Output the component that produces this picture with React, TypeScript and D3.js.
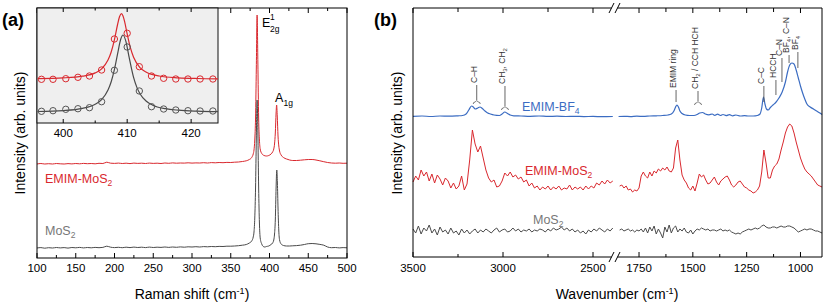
import React from "react";
import * as d3 from "d3";

const FONT = "'Liberation Sans', Arial, Helvetica, sans-serif";
const RED = "#d9282e";
const GREY = "#4a4a4a";
const BLUE = "#3b6cc2";

// ---------- (a) Raman: [shift cm-1, intensity] ----------
const ramanEmim: number[][] = [
  [100, 94], [105, 94.5], [110, 94], [115, 94.3], [120, 94], [125, 94.5], [130, 94.2], [135, 94], [140, 94.4], [145, 94.1],
  [150, 94.5], [155, 94.2], [160, 94.6], [165, 94.3], [170, 94.5], [175, 94.2], [180, 94.7], [185, 94.5], [190, 95.8], [195, 94.8],
  [200, 94.6], [205, 94.9], [210, 94.5], [215, 94.8], [220, 94.4], [225, 94.9], [230, 94.6], [235, 94.8], [240, 94.5], [245, 94.9],
  [250, 94.6], [255, 94.8], [260, 94.5], [265, 95], [270, 94.7], [275, 95.1], [280, 94.8], [285, 95], [290, 94.9], [295, 95.2],
  [300, 94.9], [305, 95.1], [310, 95], [315, 95.3], [320, 95], [325, 95.4], [330, 95.2], [335, 95.5], [340, 95.3], [345, 95.6],
  [350, 95.5], [355, 95.8], [360, 96], [365, 96.5], [370, 97.2], [374, 98.5], [377, 100.5], [379, 104], [380, 108], [381, 118],
  [382, 140], [383, 190], [384, 243], [385, 195], [386, 140], [387, 118], [388, 109], [390, 104.5], [393, 102.5], [396, 102],
  [399, 102.5], [402, 104], [404, 106], [405.5, 109], [406.5, 114], [407.5, 125], [408.5, 145], [409.2, 153], [410, 142], [411, 122],
  [412, 112], [413, 107], [415, 103], [418, 100.5], [422, 99], [426, 98], [430, 97.5], [435, 97.5], [440, 97.8], [445, 98.2],
  [450, 98.5], [455, 98.5], [460, 98], [465, 97.2], [470, 96.3], [475, 95.5], [480, 95], [485, 94.8], [490, 95], [495, 94.7], [500, 94.8],
];
const ramanMos2: number[][] = [
  [100, 10], [105, 10.4], [110, 9.8], [115, 10.3], [120, 10], [125, 10.5], [130, 10.1], [135, 10.4], [140, 9.9], [145, 10.5],
  [150, 10.2], [155, 10.6], [160, 10.1], [165, 10.5], [170, 10.2], [175, 10.6], [180, 10.3], [185, 10.6], [190, 11.8], [195, 10.8],
  [200, 10.4], [205, 10.7], [210, 10.3], [215, 10.8], [220, 10.4], [225, 10.9], [230, 10.5], [235, 10.8], [240, 10.4], [245, 10.9],
  [250, 10.5], [255, 10.8], [260, 10.6], [265, 11], [270, 10.6], [275, 11], [280, 10.7], [285, 11.1], [290, 10.8], [295, 11.2],
  [300, 11], [305, 11.3], [310, 11], [315, 11.4], [320, 11.2], [325, 11.5], [330, 11.3], [335, 11.6], [340, 11.5], [345, 11.8],
  [350, 11.8], [355, 12], [360, 12.3], [365, 12.8], [370, 13.5], [374, 15], [377, 17], [379, 21], [380, 26], [381, 40],
  [382, 70], [383, 120], [384, 158], [385, 125], [386, 70], [387, 35], [388, 20], [390, 14], [392, 11.5], [394, 11],
  [396, 11.5], [399, 12], [402, 13.5], [404, 15], [405.5, 18], [406.5, 24], [407.5, 38], [408.5, 70], [409.4, 88], [410.2, 75],
  [411, 50], [412, 27], [413, 18], [415, 14], [418, 12.5], [422, 12], [426, 12], [430, 12.2], [435, 12.4], [440, 12.8],
  [445, 13.5], [450, 14.3], [455, 14.5], [460, 14.2], [465, 13.6], [470, 12.8], [475, 11], [480, 10.3], [485, 10.5], [490, 10.1], [495, 10.4], [500, 10.2],
];
const ramanMajor = [100, 150, 200, 250, 300, 350, 400, 450, 500];
const ramanMinor = [125, 175, 225, 275, 325, 375, 425, 475];

// inset: measured points + Lorentzian fit curves
const insetShift = [396.6, 398.4, 400.4, 402.3, 404.1, 406.0, 408.0, 410.0, 411.9, 413.8, 415.7, 417.6, 419.5, 421.4, 423.4];
const insetEmim = [43.7, 43.7, 44.3, 45.7, 47, 53, 84, 89.7, 56.3, 47, 44.7, 44, 44, 44, 44];
const insetMos2 = [11.7, 12.3, 13.7, 14.3, 15.3, 21.3, 52.7, 76, 32, 16.3, 14, 13, 12.3, 12, 12];
const insetEmimFit: number[][] = [
  [396, 44.4], [400, 45.1], [403, 46.8], [405, 50.1], [406, 54.2], [407, 62.9], [407.5, 71], [408, 83.1], [408.5, 98.5],
  [408.8, 106.2], [409.1, 109.3], [409.35, 107.1], [409.6, 101.4], [410, 89.1], [410.5, 75.3], [411, 65.7], [412, 55.4],
  [413, 50.7], [415, 47], [418, 45.2], [421, 44.5], [424.2, 44.2],
];
const insetMos2Fit: number[][] = [
  [396, 11.5], [400, 12.4], [403, 14.6], [405, 18.7], [406, 23.4], [407, 33], [407.5, 41.3], [408, 53.3], [408.5, 69.2],
  [409, 84], [409.35, 88], [409.8, 81.6], [410.3, 65.9], [411, 45.6], [411.5, 35.9], [412, 29.3], [413, 21.7], [414, 17.8],
  [416, 14.3], [418, 12.8], [421, 11.8], [424.2, 11.3],
];
const insetMajor = [400, 410, 420];
const insetMinor = [405, 415];

// ---------- (b) IR ----------
const irLeftWn = d3.range(3500, 2385, -15);
const irRightWn = d3.range(1840, 895, -10);
const irLeftEmimMos2 = [
  75, 81, 77, 87, 81, 85, 76, 83, 74, 82, 78, 72, 79, 76, 69, 74, 68, 71, 81, 67,
  73, 97, 127, 113, 105, 111, 99, 87, 79, 75, 77, 70, 71, 76, 84, 81, 85, 80, 82, 78,
  80, 75, 77, 71, 74, 69, 71, 67, 70, 68, 71, 67, 70, 68, 71, 67, 69, 68, 72, 67,
  70, 68, 70, 67, 71, 68, 71, 69, 74, 72, 76, 73, 77, 74, 76,
];
const irLeftMos2 = [
  28, 24, 31, 23, 29, 26, 32, 24, 28, 22, 30, 25, 27, 23, 29, 24, 26, 22, 28, 24,
  27, 23, 26, 28, 24, 27, 25, 28, 26, 24, 27, 29, 25, 27, 28, 25, 26, 29, 26, 28,
  25, 27, 26, 28, 25, 27, 26, 28, 27, 25, 28, 26, 29, 27, 28, 30, 27, 29, 26, 28,
  25, 27, 24, 26, 23, 27, 25, 28, 26, 29, 27, 25, 28, 26, 29,
];
const irRightEmimMos2 = [
  71, 72, 69, 71, 67, 68, 65, 67, 66, 69, 81, 85, 81, 79, 85, 81, 86, 84, 88, 86,
  89, 87, 90, 86, 85, 89, 109, 117, 97, 82, 77, 74, 69, 67, 71, 66, 74, 83, 80, 82,
  77, 73, 74, 77, 80, 75, 72, 76, 78, 80, 81, 77, 72, 70, 72, 75, 76, 73, 70, 69,
  67, 66, 64, 65, 67, 71, 85, 107, 94, 79, 79, 87, 91, 93, 98, 107, 115, 124, 130, 133,
  131, 124, 115, 107, 99, 93, 88, 85, 83, 81, 78, 75, 72, 71, 70,
];
const irRightMos2 = [
  27, 28, 26, 27, 28, 26, 27, 25, 27, 26, 28, 25, 29, 24, 30, 26, 31, 23, 28, 24,
  19, 30, 25, 32, 24, 29, 31, 25, 28, 26, 29, 25, 24, 27, 23, 26, 28, 27, 29, 28,
  27, 28, 26, 27, 27, 26, 27, 28, 26, 27, 26, 27, 25, 24, 23, 24, 23, 25, 26, 27,
  28, 27, 28, 29, 28, 29, 31, 32, 30, 29, 29, 30, 30, 29, 30, 31, 30, 30, 31, 31,
  30, 29, 27, 25, 26, 27, 28, 27, 28, 28, 27, 26, 26, 25, 24,
];
const irLeftBf4: number[][] = [
  [3500, 140.7], [3450, 141], [3400, 140.5], [3350, 141], [3300, 140.8], [3250, 141.2], [3225, 141.5], [3205, 143],
  [3190, 147], [3175, 151], [3165, 150], [3155, 148], [3140, 149], [3128, 150], [3115, 148.5], [3100, 146], [3085, 144],
  [3070, 143], [3050, 142], [3020, 141.5], [3005, 143], [2990, 145], [2975, 143.5], [2960, 142], [2940, 141.2], [2900, 141],
  [2850, 140.7], [2800, 141], [2750, 140.6], [2700, 140.8], [2650, 140.5], [2600, 140.7], [2550, 140.4], [2500, 140.6],
  [2450, 140.3], [2390, 140.5],
];
const irRightBf4: number[][] = [
  [1845, 140.5], [1820, 140.7], [1790, 140.4], [1760, 140.8], [1730, 140.6], [1700, 141], [1670, 141.2], [1640, 141.5],
  [1615, 142], [1600, 143], [1588, 146], [1580, 150], [1574, 152], [1567, 150], [1560, 146], [1550, 143.5], [1535, 142],
  [1515, 141.5], [1495, 141.5], [1480, 142.5], [1468, 144], [1455, 144.5], [1442, 143], [1425, 142.2], [1410, 143],
  [1398, 141.7], [1385, 142.8], [1372, 141.5], [1360, 142.5], [1345, 141.4], [1330, 142.4], [1315, 141.2], [1300, 142],
  [1280, 141], [1260, 141.4], [1240, 141], [1220, 141], [1200, 141.5], [1188, 143], [1180, 149], [1172, 160], [1165, 153],
  [1158, 148], [1150, 147], [1140, 149.5], [1128, 152], [1115, 154.5], [1100, 159], [1085, 165], [1070, 175], [1060, 185],
  [1050, 192], [1040, 194], [1030, 193], [1020, 187], [1010, 179], [1000, 171], [990, 164], [980, 158], [970, 153],
  [955, 150], [940, 148], [925, 146], [910, 144], [900, 142.5],
];
const irLeftMajor = [3500, 3000, 2500];
const irLeftMinor = [3250, 2750];
const irRightMajor = [1750, 1500, 1250, 1000];
const irRightMinor = [1625, 1375, 1125];

type Part = { t: string; sub?: boolean };
const irBands: { seg: "L" | "R"; wn: number; parts: Part[]; top: number; bottom: number; brace?: boolean }[] = [
  { seg: "L", wn: 3146, parts: [{ t: "C–H" }], top: 85, bottom: 100, brace: true },
  { seg: "L", wn: 2989, parts: [{ t: "CH" }, { t: "3", sub: true }, { t: ", CH" }, { t: "2", sub: true }], top: 86, bottom: 106, brace: true },
  { seg: "R", wn: 1578, parts: [{ t: "EMIM ring" }], top: 90, bottom: 102 },
  { seg: "R", wn: 1476, parts: [{ t: "CH" }, { t: "2", sub: true }, { t: " / CCH HCH" }], top: 91, bottom: 101, brace: true },
  { seg: "R", wn: 1170, parts: [{ t: "C–C" }], top: 86, bottom: 102 },
  { seg: "R", wn: 1114, parts: [{ t: "HCCH" }], top: 80, bottom: 95 },
  { seg: "R", wn: 1086, parts: [{ t: "C–N" }], top: 58, bottom: 82 },
  { seg: "R", wn: 1053, parts: [{ t: "BF" }, { t: "4", sub: true }, { t: ", C–N" }], top: 55, bottom: 63 },
  { seg: "R", wn: 1012, parts: [{ t: "BF" }, { t: "4", sub: true }], top: 52, bottom: 68 },
];

export default function App() {
  const xA = d3.scaleLinear().domain([100, 500]).range([37, 347]);
  const yA = d3.scaleLinear().domain([0, 250]).range([258, 8]);
  const xI = d3.scaleLinear().domain([395.9, 424.2]).range([37, 218]);
  const yI = d3.scaleLinear().domain([0, 115]).range([123, 8]);
  const xL = d3.scaleLinear().domain([3500, 2385]).range([413, 613.7]);
  const xR = d3.scaleLinear().domain([1850, 900]).range([617.5, 822]);
  const yB = d3.scaleLinear().domain([0, 249]).range([257, 8]);

  const lineA = d3.line<number[]>().x((d) => xA(d[0])).y((d) => yA(d[1])).curve(d3.curveMonotoneX);
  const lineI = d3.line<number[]>().x((d) => xI(d[0])).y((d) => yI(d[1])).curve(d3.curveMonotoneX);
  const lineL = d3.line<number[]>().x((d) => xL(d[0])).y((d) => yB(d[1]));
  const lineR = d3.line<number[]>().x((d) => xR(d[0])).y((d) => yB(d[1]));
  const smoothL = d3.line<number[]>().x((d) => xL(d[0])).y((d) => yB(d[1])).curve(d3.curveMonotoneX);
  const smoothR = d3.line<number[]>().x((d) => xR(d[0])).y((d) => yB(d[1])).curve(d3.curveMonotoneX);

  const zipL = (vals: number[]) => vals.map((v, i) => [irLeftWn[i], v]);
  const zipR = (vals: number[]) => vals.map((v, i) => [irRightWn[i], v]);

  const tick = (x: number, y0: number, len: number, key: string) => (
    <line key={key} x1={x} x2={x} y1={y0} y2={y0 + len} stroke="#000" strokeWidth={1} />
  );

  const aTop = 8, aBot = 258, bTop = 8, bBot = 257;

  return (
    <svg width={830} height={307} style={{ position: "absolute", left: 0, top: 0 }} fontFamily={FONT}>
      <rect width={830} height={307} fill="#fff" />

      {/* ---------------- panel (a) ---------------- */}
      <text x={2} y={26} fontSize={18} fontWeight="bold">(a)</text>
      <path d={lineA(ramanEmim) ?? ""} fill="none" stroke={RED} strokeWidth={1} />
      <path d={lineA(ramanMos2) ?? ""} fill="none" stroke={GREY} strokeWidth={1} />
      <rect x={37} y={aTop} width={310} height={aBot - aTop} fill="none" stroke="#000" strokeWidth={1} />
      {ramanMajor.map((t) => tick(xA(t), aBot, -5, "ab" + t))}
      {ramanMinor.map((t) => tick(xA(t), aBot, -3, "abm" + t))}
      {ramanMajor.map((t) => tick(xA(t), aTop, 5, "at" + t))}
      {ramanMinor.map((t) => tick(xA(t), aTop, 3, "atm" + t))}
      {ramanMajor.map((t) => (
        <text key={"al" + t} x={xA(t)} y={272} fontSize={11.5} textAnchor="middle">{t}</text>
      ))}
      <text x={192} y={299} fontSize={14} textAnchor="middle">
        Raman shift (cm<tspan dy={-5} fontSize={9}>-1</tspan><tspan dy={5}>)</tspan>
      </text>
      <text transform="translate(25,133) rotate(-90)" fontSize={14} textAnchor="middle">Intensity (arb. units)</text>

      <text x={262} y={27} fontSize={12.5}>E</text>
      <text x={270} y={20} fontSize={8.5}>1</text>
      <text x={270} y={32} fontSize={8.5}>2g</text>
      <text x={275} y={102} fontSize={12.5}>A</text>
      <text x={283.5} y={105.5} fontSize={8.5}>1g</text>

      <text x={45} y={183} fontSize={12.5} fill={RED}>
        EMIM-MoS<tspan dy={3} fontSize={8.5}>2</tspan>
      </text>
      <text x={45} y={235} fontSize={12.5} fill="#777">
        MoS<tspan dy={3} fontSize={8.5}>2</tspan>
      </text>

      {/* inset */}
      <rect x={37} y={8} width={181} height={115} fill="#efefef" stroke="#111" strokeWidth={1} />
      {insetMajor.map((t) => tick(xI(t), 123, -4, "ib" + t))}
      {insetMinor.map((t) => tick(xI(t), 123, -2.5, "ibm" + t))}
      {insetMajor.map((t) => tick(xI(t), 8, 4, "it" + t))}
      {insetMinor.map((t) => tick(xI(t), 8, 2.5, "itm" + t))}
      {insetMajor.map((t) => (
        <text key={"il" + t} x={xI(t)} y={137} fontSize={11.5} textAnchor="middle">{t}</text>
      ))}
      <path d={lineI(insetEmimFit) ?? ""} fill="none" stroke={RED} strokeWidth={1.2} />
      <path d={lineI(insetMos2Fit) ?? ""} fill="none" stroke={GREY} strokeWidth={1.2} />
      {insetShift.map((s, i) => (
        <circle key={"ir" + i} cx={xI(s)} cy={yI(insetEmim[i])} r={3.2} fill="none" stroke={RED} strokeWidth={1} />
      ))}
      {insetShift.map((s, i) => (
        <circle key={"ig" + i} cx={xI(s)} cy={yI(insetMos2[i])} r={3.2} fill="none" stroke="#555" strokeWidth={1} />
      ))}

      {/* ---------------- panel (b) ---------------- */}
      <text x={374} y={26} fontSize={18} fontWeight="bold">(b)</text>
      <text transform="translate(402,133) rotate(-90)" fontSize={14} textAnchor="middle">Intensity (arb. units)</text>

      <path d={lineL(zipL(irLeftMos2)) ?? ""} fill="none" stroke={GREY} strokeWidth={1} />
      <path d={lineR(zipR(irRightMos2)) ?? ""} fill="none" stroke={GREY} strokeWidth={1} />
      <path d={lineL(zipL(irLeftEmimMos2)) ?? ""} fill="none" stroke={RED} strokeWidth={1} />
      <path d={lineR(zipR(irRightEmimMos2)) ?? ""} fill="none" stroke={RED} strokeWidth={1} />
      <path d={smoothL(irLeftBf4) ?? ""} fill="none" stroke={BLUE} strokeWidth={1.2} />
      <path d={smoothR(irRightBf4) ?? ""} fill="none" stroke={BLUE} strokeWidth={1.2} />

      <g stroke="#000" strokeWidth={1}>
        <line x1={413} x2={413} y1={bTop} y2={bBot} />
        <line x1={822} x2={822} y1={bTop} y2={bBot} />
        <line x1={413} x2={611.5} y1={bTop} y2={bTop} />
        <line x1={617.5} x2={822} y1={bTop} y2={bTop} />
        <line x1={413} x2={611.5} y1={bBot} y2={bBot} />
        <line x1={617.5} x2={822} y1={bBot} y2={bBot} />
        {[bTop, bBot].map((y) => (
          <g key={"brk" + y}>
            <line x1={609} x2={614} y1={y + 5} y2={y - 5} />
            <line x1={615} x2={620} y1={y + 5} y2={y - 5} />
          </g>
        ))}
      </g>
      {irLeftMajor.map((t) => tick(xL(t), bBot, -5, "lb" + t))}
      {irLeftMinor.map((t) => tick(xL(t), bBot, -3, "lbm" + t))}
      {irLeftMajor.map((t) => tick(xL(t), bTop, 5, "lt" + t))}
      {irLeftMinor.map((t) => tick(xL(t), bTop, 4, "ltm" + t))}
      {irRightMajor.map((t) => tick(xR(t), bBot, -5, "rb" + t))}
      {irRightMinor.map((t) => tick(xR(t), bBot, -3, "rbm" + t))}
      {irRightMajor.map((t) => tick(xR(t), bTop, 5, "rt" + t))}
      {irRightMinor.map((t) => tick(xR(t), bTop, 4, "rtm" + t))}
      {irLeftMajor.map((t) => (
        <text key={"ll" + t} x={xL(t)} y={272} fontSize={11.5} textAnchor="middle">{t}</text>
      ))}
      {irRightMajor.map((t) => (
        <text key={"rl" + t} x={xR(t)} y={272} fontSize={11.5} textAnchor="middle">{t}</text>
      ))}
      <text x={617} y={299} fontSize={14} textAnchor="middle">
        Wavenumber (cm<tspan dy={-5} fontSize={9}>-1</tspan><tspan dy={5}>)</tspan>
      </text>

      <text x={522} y={111} fontSize={12.5} fill={BLUE}>
        EMIM-BF<tspan dy={3} fontSize={8.5}>4</tspan>
      </text>
      <text x={525} y={175} fontSize={12.5} fill={RED}>
        EMIM-MoS<tspan dy={3} fontSize={8.5}>2</tspan>
      </text>
      <text x={533} y={224} fontSize={12.5} fill="#777">
        MoS<tspan dy={3} fontSize={8.5}>2</tspan>
      </text>

      {irBands.map((b, i) => {
        const x = b.seg === "L" ? xL(b.wn) : xR(b.wn);
        return (
          <g key={"band" + i} fill="#333" stroke="none">
            <line x1={x} x2={x} y1={b.top} y2={b.bottom} stroke="#555" strokeWidth={0.9} />
            {b.brace && (
              <path
                d={`M${x - 3.5},${b.bottom + 4} Q${x - 3.5},${b.bottom + 2} ${x - 1.5},${b.bottom + 2} L${x},${b.bottom + 0.5} L${x + 1.5},${b.bottom + 2} Q${x + 3.5},${b.bottom + 2} ${x + 3.5},${b.bottom + 4}`}
                fill="none"
                stroke="#555"
                strokeWidth={0.8}
              />
            )}
            <text transform={`translate(${x},${b.top - 2}) rotate(-90)`} fontSize={8.5} dy="0.35em">
              {b.parts.map((p, j) =>
                p.sub ? (
                  <tspan key={j} dy={2.2} fontSize={6}>{p.t}</tspan>
                ) : (
                  <tspan key={j} dy={j > 0 && b.parts[j - 1].sub ? -2.2 : 0}>{p.t}</tspan>
                )
              )}
            </text>
          </g>
        );
      })}
    </svg>
  );
}
